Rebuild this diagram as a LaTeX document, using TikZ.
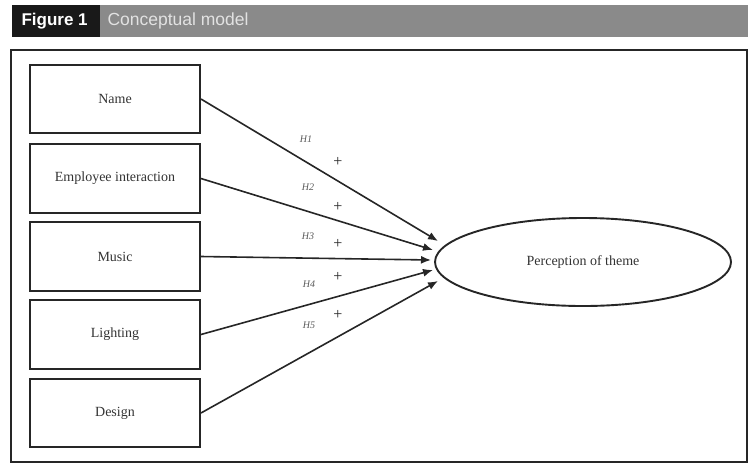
\documentclass[tikz,border=0pt]{standalone}
\usepackage{fontspec}
\setmainfont{Liberation Serif}
\newfontfamily\hdfont{Liberation Sans}
\usetikzlibrary{arrows.meta,shapes.geometric}
\definecolor{hdgrey}{HTML}{8A8A8A}
\definecolor{hdtext}{HTML}{E2E2E2}
\tikzset{
  varbox/.style={draw=black!85, line width=1.9pt, minimum width=170pt, minimum height=68.5pt, inner sep=0pt, font=\fontsize{14}{16}\selectfont, text=black!80},
  hyparrow/.style={draw=black!85, line width=1.6pt, -{Latex[length=10pt,width=8pt]}},
  hlabel/.style={font=\fontsize{10}{11}\selectfont\itshape, text=black!65},
  plus/.style={font=\fontsize{16}{16}\selectfont, text=black!85},
}
\begin{document}
\begin{tikzpicture}[x=1pt,y=-1pt]
\useasboundingbox (0,0) rectangle (754,464);
% header
\fill[hdgrey] (100,5) rectangle (748,37);
\fill[black!90] (12,5) rectangle (100,37);
\node[anchor=west, text=white, font=\hdfont\bfseries\fontsize{17}{19}\selectfont] (fig) at (18,21) {Figure 1};
\node[anchor=west, text=hdtext, font=\hdfont\fontsize{17.5}{19}\selectfont] (cap) at (104,21) {Conceptual model};
% frame
\draw[black!85, line width=2.6pt] (11,50) rectangle (747,462);
% boxes
\node[varbox] (b1) at (115,99) {Name};
\node[varbox] (b2) at (115,178.5) {Employee interaction};
\node[varbox] (b3) at (115,256.5) {Music};
\node[varbox] (b4) at (115,334.5) {Lighting};
\node[varbox] (b5) at (115,413) {Design};
% ellipse
\node[ellipse, draw=black!85, line width=1.9pt, minimum width=296pt, minimum height=88pt, inner sep=0pt, font=\fontsize{14}{16}\selectfont, text=black!80] (pt) at (583,262) {Perception of theme};
% arrow tips
\coordinate (t1) at (438,241);
\coordinate (t2) at (433,250);
\coordinate (t3) at (431,260);
\coordinate (t4) at (433,270);
\coordinate (t5) at (438,281);
\draw[hyparrow] (b1.east) -- (t1);
\draw[hyparrow] (b2.east) -- (t2);
\draw[hyparrow] (b3.east) -- (t3);
\draw[hyparrow] (b4.east) -- (t4);
\draw[hyparrow] (b5.east) -- (t5);
% labels
\node[hlabel] (h1) at (306,139) {H1};
\node[hlabel] (h2) at (308,187) {H2};
\node[hlabel] (h3) at (308,236) {H3};
\node[hlabel] (h4) at (309,284) {H4};
\node[hlabel] (h5) at (309,325) {H5};
\node[plus] (p1) at (338,162) {+};
\node[plus] (p2) at (338,207) {+};
\node[plus] (p3) at (338,244) {+};
\node[plus] (p4) at (338,277) {+};
\node[plus] (p5) at (338,315) {+};
\end{tikzpicture}
\end{document}
